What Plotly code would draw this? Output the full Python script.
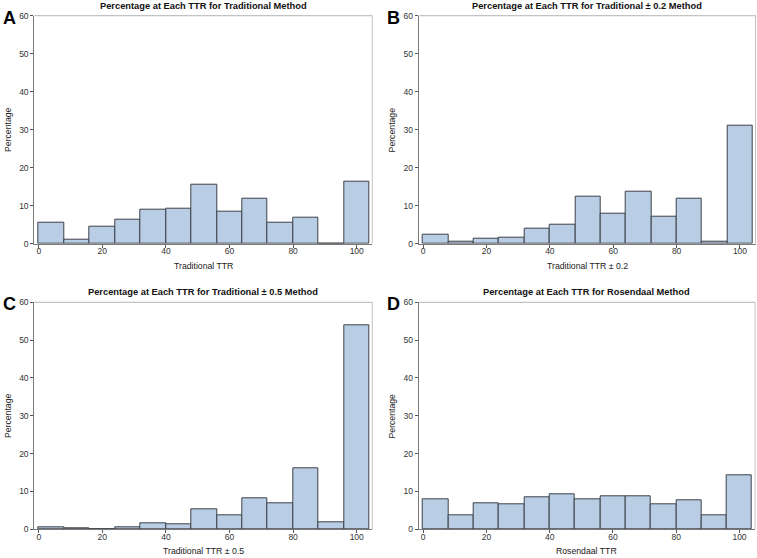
import plotly.graph_objects as go

bin_lower = [0, 8, 16, 24, 32, 40, 48, 56, 64, 72, 80, 88, 96]
pct_traditional = [5.6, 1.1, 4.4, 6.4, 8.9, 9.3, 15.4, 8.3, 11.8, 5.6, 6.8, 0.0, 16.4]
pct_trad_02 = [2.4, 0.5, 1.3, 1.7, 4.0, 5.1, 12.5, 8.0, 13.6, 7.2, 11.8, 0.6, 31.0]
pct_trad_05 = [0.6, 0.2, 0.05, 0.45, 1.6, 1.2, 5.4, 3.6, 8.2, 7.0, 16.2, 1.9, 53.8]
pct_rosendaal = [7.8, 3.8, 6.9, 6.5, 8.4, 9.2, 8.0, 8.8, 8.7, 6.7, 7.6, 3.7, 14.3]

titles = [
    "Percentage at Each TTR for Traditional Method",
    "Percentage at Each TTR for Traditional \u00b1 0.2 Method",
    "Percentage at Each TTR for Traditional \u00b1 0.5 Method",
    "Percentage at Each TTR for Rosendaal Method",
]
xtitles = ["Traditional TTR", "Traditional TTR \u00b1 0.2", "Traditional TTR \u00b1 0.5", "Rosendaal TTR"]
letters = ["A", "B", "C", "D"]
series = [pct_traditional, pct_trad_02, pct_trad_05, pct_rosendaal]
x_ticks = [0, 20, 40, 60, 80, 100]
y_ticks = [0, 10, 20, 30, 40, 50, 60]

W, H = 757, 558
xdom_px = [(34.3, 372.3), (418.7, 755.5), (34.3, 372.3), (418.7, 755.0)]
ydom_px = [(15.7, 243.7), (15.7, 243.7), (302.3, 529.3), (302.3, 529.3)]

FONT = "Liberation Sans, Arial, sans-serif"
fig = go.Figure()
annotations = []
shapes = []
for i in range(4):
    n = "" if i == 0 else str(i + 1)
    xa, ya = "x" + n, "y" + n
    fig.add_trace(go.Bar(
        x=bin_lower, y=series[i], offset=0, width=8,
        marker=dict(color="#b9cde5", line=dict(color="#3c4148", width=1)),
        xaxis=xa, yaxis=ya, showlegend=False, hoverinfo="x+y",
    ))
    x0, x1 = xdom_px[i]
    y0, y1 = ydom_px[i]
    xd = [x0 / W, x1 / W]
    yd = [1 - y1 / H, 1 - y0 / H]
    axis_common = dict(
        showline=True, linecolor="#7a7a7a", linewidth=1, mirror=False,
        ticks="outside", ticklen=3, tickcolor="#555", tickwidth=1,
        showgrid=False, zeroline=False, automargin=False,
        tickfont=dict(family=FONT, size=8.5, color="#333"),
    )
    fig.layout["xaxis" + n] = dict(
        domain=xd, range=[-1.4, 104.9], tickvals=x_ticks, anchor=ya,
        ticklabelstandoff=-4, **axis_common)
    fig.layout["yaxis" + n] = dict(
        domain=yd, range=[0, 60], tickvals=y_ticks, anchor=xa, **axis_common)
    # light top and right frame lines
    shapes.append(dict(type="line", xref=xa + " domain", yref=ya + " domain",
                       x0=0, x1=1, y0=1, y1=1, line=dict(color="#b5b5b5", width=1), layer="above"))
    shapes.append(dict(type="line", xref=xa + " domain", yref=ya + " domain",
                       x0=1, x1=1, y0=0, y1=1, line=dict(color="#c2c2c2", width=1), layer="above"))
    cx = (x0 + x1) / 2 / W
    # panel title
    annotations.append(dict(
        text="<b>" + titles[i] + "</b>", x=cx, y=1 - (y0 - 10) / H,
        xref="paper", yref="paper", showarrow=False, xanchor="center", yanchor="middle",
        font=dict(family=FONT, size=9.3, color="#111")))
    # x-axis title
    annotations.append(dict(
        text=xtitles[i], x=cx, y=1 - (y1 + 22) / H,
        xref="paper", yref="paper", showarrow=False, xanchor="center", yanchor="middle",
        font=dict(family=FONT, size=8.7, color="#222")))
    # y-axis title
    annotations.append(dict(
        text="Percentage", x=(x0 - 27) / W, y=1 - (y0 + y1) / 2 / H,
        xref="paper", yref="paper", showarrow=False, textangle=-90,
        xanchor="center", yanchor="middle",
        font=dict(family=FONT, size=8.7, color="#222")))
    # panel letter
    annotations.append(dict(
        text="<b>" + letters[i] + "</b>", x=(x0 - 25) / W, y=1 - (y0 + 2) / H,
        xref="paper", yref="paper", showarrow=False, xanchor="center", yanchor="middle",
        font=dict(family=FONT, size=18, color="#000")))

fig.update_layout(
    width=W, height=H, margin=dict(l=0, r=0, t=0, b=0),
    paper_bgcolor="white", plot_bgcolor="white",
    annotations=annotations, shapes=shapes, bargap=0,
)
fig.write_html(
    "out.html",
    config={"displayModeBar": False},
    post_script="document.body.style.margin='0';document.body.style.overflow='hidden';",
)
